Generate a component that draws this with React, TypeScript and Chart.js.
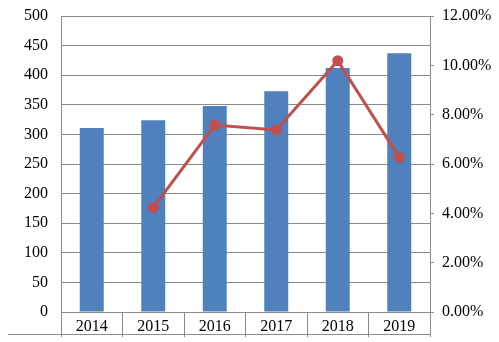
import React, { useEffect, useRef } from "react";
import { Chart, registerables } from "chart.js";

Chart.register(...registerables);

const categories = ["2014", "2015", "2016", "2017", "2018", "2019"];
const barValues = [311, 324, 348, 373, 412, 437];
const rateValues: (number | null)[] = [null, 4.23, 7.58, 7.38, 10.19, 6.27];

const GRID = "#8a8a8a";
const FONT = { family: "'Liberation Serif', 'Times New Roman', serif", size: 16 };

const bottomLinePlugin = {
  id: "bottomLine",
  afterDraw(chart: any) {
    const x = chart.scales.x;
    const ctx = chart.ctx;
    ctx.save();
    ctx.strokeStyle = GRID;
    ctx.lineWidth = 1;
    const y = Math.round(x.top + 22) + 0.5;
    ctx.beginPath();
    ctx.moveTo(8, y);
    ctx.lineTo(chart.chartArea.right, y);
    ctx.stroke();
    ctx.restore();
  },
};

export default function App() {
  const ref = useRef<HTMLCanvasElement>(null);
  useEffect(() => {
    if (!ref.current) return;
    const chart = new Chart(ref.current, {
      type: "bar",
      data: {
        labels: categories,
        datasets: [
          {
            type: "line",
            data: rateValues,
            yAxisID: "y1",
            borderColor: "#C0504D",
            backgroundColor: "#C0504D",
            borderWidth: 3,
            pointRadius: 4,
            pointBackgroundColor: "#C0504D",
            pointBorderColor: "#C0504D",
            order: 1,
          } as any,
          {
            type: "bar",
            data: barValues,
            yAxisID: "y",
            backgroundColor: "#4F81BD",
            categoryPercentage: 1,
            barPercentage: 0.39,
            order: 2,
          },
        ],
      },
      options: {
        responsive: false,
        animation: false,
        plugins: { legend: { display: false }, tooltip: { enabled: false } },
        layout: { padding: { top: 16, left: 0, right: 0, bottom: 0 } },
        scales: {
          x: {
            offset: true,
            grid: { offset: true, drawOnChartArea: false, tickLength: 25, color: GRID },
            border: { display: true, color: GRID },
            ticks: { color: "#000", font: FONT, padding: -20, maxRotation: 0 },
            afterFit(scale: any) {
              scale.height = 30;
            },
          },
          y: {
            position: "left",
            min: 0,
            max: 500,
            ticks: { stepSize: 50, color: "#000", font: FONT, padding: 13 },
            grid: { color: GRID, drawTicks: false },
            border: { display: true, color: GRID },
            afterFit(scale: any) {
              scale.width = 61;
              scale.paddingTop = 8;
              scale.paddingBottom = 8;
            },
          },
          y1: {
            position: "right",
            min: 0,
            max: 12,
            ticks: {
              stepSize: 2,
              color: "#000",
              font: FONT,
              padding: 8,
              callback: (v: any) => Number(v).toFixed(2) + "%",
            },
            grid: { drawOnChartArea: false, tickLength: 4, color: GRID },
            border: { display: true, color: GRID },
            afterFit(scale: any) {
              scale.width = 69;
              scale.paddingTop = 8;
              scale.paddingBottom = 8;
            },
          },
        },
      },
      plugins: [bottomLinePlugin],
    });
    return () => chart.destroy();
  }, []);
  return (
    <div style={{ position: "fixed", left: 0, top: 0, width: 499, height: 342, background: "#fff" }}>
      <canvas ref={ref} width={499} height={342} />
    </div>
  );
}
